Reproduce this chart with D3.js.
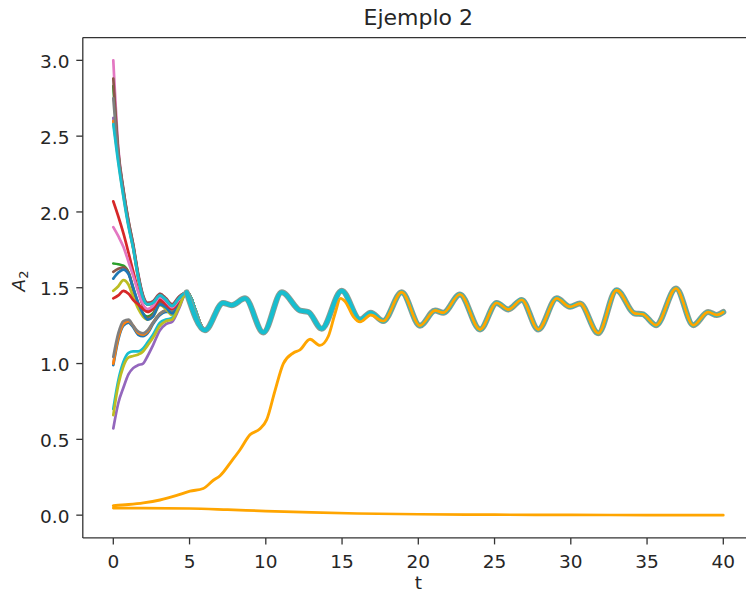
<!DOCTYPE html>
<html><head><meta charset="utf-8">
<script src="https://cdn.jsdelivr.net/npm/d3@7"></script>
<style>html,body{margin:0;padding:0;background:#fff}svg{display:block}</style>
</head><body>
<svg id="chart" width="746" height="594"></svg>
<script>
const chartTitle = "Ejemplo 2";
const xLabel = "t";
const xTicks = [0, 5, 10, 15, 20, 25, 30, 35, 40];
const yTicks = [0, 0.5, 1.0, 1.5, 2.0, 2.5, 3.0];

// early transient knots (shared time grid)
const earlyT = [0, 0.33, 0.66, 1.0, 1.3, 1.64, 1.95, 2.25, 2.6, 3.06, 3.45, 3.85, 4.3];
const s01 = [0.99, 1.16, 1.25, 1.27, 1.24, 1.19, 1.18, 1.20, 1.26, 1.32, 1.34, 1.34, 1.39];
const s02 = [1.00, 1.17, 1.26, 1.28, 1.25, 1.20, 1.19, 1.21, 1.27, 1.33, 1.35, 1.35, 1.40];
const s03 = [1.66, 1.655, 1.645, 1.60, 1.50, 1.39, 1.33, 1.31, 1.33, 1.41, 1.38, 1.34, 1.40];
const s04 = [2.07, 1.97, 1.86, 1.73, 1.61, 1.48, 1.38, 1.35, 1.38, 1.44, 1.41, 1.37, 1.42];
const s05 = [2.62, 2.36, 2.13, 1.92, 1.77, 1.57, 1.44, 1.39, 1.40, 1.45, 1.42, 1.38, 1.43];
const s06 = [1.605, 1.625, 1.635, 1.60, 1.49, 1.38, 1.32, 1.30, 1.32, 1.40, 1.37, 1.33, 1.39];
const s07 = [3.00, 2.42, 2.15, 1.94, 1.79, 1.59, 1.45, 1.40, 1.41, 1.46, 1.43, 1.39, 1.44];
const s08 = [1.044, 1.20, 1.28, 1.29, 1.25, 1.21, 1.20, 1.22, 1.27, 1.33, 1.35, 1.35, 1.40];
const s09 = [1.48, 1.51, 1.55, 1.52, 1.44, 1.36, 1.31, 1.29, 1.31, 1.385, 1.36, 1.32, 1.38];
const s10 = [0.70, 0.89, 1.01, 1.07, 1.08, 1.08, 1.10, 1.14, 1.19, 1.27, 1.29, 1.30, 1.38];
const s11 = [1.56, 1.60, 1.62, 1.59, 1.50, 1.40, 1.33, 1.29, 1.31, 1.39, 1.37, 1.33, 1.39];
const s12 = [2.60, 2.34, 2.11, 1.91, 1.76, 1.56, 1.43, 1.39, 1.40, 1.45, 1.42, 1.38, 1.43];
const s13 = [2.83, 2.38, 2.14, 1.93, 1.78, 1.58, 1.44, 1.39, 1.40, 1.45, 1.42, 1.38, 1.43];
const s14 = [1.43, 1.45, 1.48, 1.46, 1.42, 1.39, 1.36, 1.34, 1.36, 1.42, 1.39, 1.36, 1.41];
const s15 = [0.572, 0.74, 0.84, 0.93, 0.97, 0.99, 1.00, 1.05, 1.12, 1.22, 1.26, 1.275, 1.36];
const s16 = [2.88, 2.40, 2.15, 1.94, 1.79, 1.58, 1.45, 1.40, 1.41, 1.46, 1.43, 1.39, 1.44];
const s17 = [1.90, 1.84, 1.77, 1.67, 1.58, 1.47, 1.39, 1.36, 1.38, 1.44, 1.41, 1.37, 1.42];
const s18 = [2.75, 2.37, 2.13, 1.92, 1.77, 1.57, 1.44, 1.39, 1.40, 1.45, 1.42, 1.38, 1.43];
const s19 = [0.66, 0.86, 0.98, 1.04, 1.05, 1.06, 1.08, 1.12, 1.17, 1.25, 1.28, 1.29, 1.37];
const s20 = [2.58, 2.32, 2.10, 1.90, 1.76, 1.56, 1.43, 1.39, 1.40, 1.45, 1.42, 1.38, 1.43];

// common long-time trajectory
const attractorT = [4.81, 6.01, 7.2, 7.76, 8.64, 9.84, 11.05, 12.24, 12.79, 13.66, 14.98, 16.18, 16.88, 17.7,
  18.91, 20.11, 21.1, 21.64, 22.73, 24.05, 25.14, 25.9, 26.78, 27.87, 29.08, 29.95, 30.6, 31.8,
  33.0, 34.2, 34.7, 35.59, 36.9, 38.03, 39.0, 39.57, 40.0];
const attractorA = [1.47, 1.22, 1.40, 1.385, 1.43, 1.205, 1.47, 1.35, 1.34, 1.23, 1.48, 1.29, 1.335, 1.28,
  1.47, 1.25, 1.35, 1.335, 1.456, 1.225, 1.40, 1.357, 1.42, 1.225, 1.43, 1.374, 1.396, 1.20,
  1.484, 1.33, 1.326, 1.253, 1.495, 1.253, 1.34, 1.32, 1.34];

// slowly rising orange series (joins the trajectory near t = 17.7)
const risingT = [0, 1.0, 1.97, 3.06, 4.16, 5.03, 5.9, 6.56, 7.0, 7.78, 8.3, 8.96, 9.62, 10.06, 10.6, 11.15,
  11.8, 12.24, 12.9, 13.55, 14.1, 14.54, 14.9, 15.2, 15.74, 16.18, 16.88];
const risingA = [0.062, 0.07, 0.081, 0.10, 0.13, 0.158, 0.176, 0.23, 0.26, 0.36, 0.43, 0.53, 0.57, 0.63, 0.82, 1.0,
  1.07, 1.09, 1.16, 1.12, 1.18, 1.33, 1.43, 1.41, 1.31, 1.275, 1.32];

// decaying orange series
const decayT = [0, 2, 5, 7.5, 10, 13, 16, 20, 25, 30, 35, 40];
const decayA = [0.047, 0.047, 0.044, 0.036, 0.027, 0.018, 0.011, 0.006, 0.003, 0.0015, 0.0005, 0.0];

const tab10 = ["#1f77b4", "#ff7f0e", "#2ca02c", "#d62728", "#9467bd", "#8c564b", "#e377c2", "#7f7f7f", "#bcbd22", "#17becf"];
const extraColor = "#ffa500";

const earlySeries = [s01, s02, s03, s04, s05, s06, s07, s08, s09, s10,
                     s11, s12, s13, s14, s15, s16, s17, s18, s19, s20];

const svg = d3.select("#chart");
const W = 746, H = 594;
const L = 82.8, R = 753.8, T = 37.6, B = 537.9;
const x = d3.scaleLinear().domain([-2, 42]).range([L, R]);
const y = d3.scaleLinear().domain([-0.15, 3.15]).range([B, T]);
const FONT = "'DejaVu Sans', sans-serif";
const TXT = "#262626";

svg.append("rect").attr("width", W).attr("height", H).attr("fill", "#fff");

const zip = (ts, vs) => ts.map((t, i) => [t, vs[i]]);
const attractor = zip(attractorT, attractorA);
const line = d3.line().x(d => x(d[0])).y(d => y(d[1])).curve(d3.curveMonotoneX);

const g = svg.append("g");
earlySeries.forEach((vals, i) => {
  const pts = zip(earlyT, vals).concat(attractor);
  g.append("path").attr("d", line(pts)).attr("fill", "none")
    .attr("stroke", tab10[i % 10]).attr("stroke-width", 2.7)
    .attr("stroke-linejoin", "round").attr("stroke-linecap", "round");
});
// overlapped bundle of converged series
g.append("path").attr("d", line(attractor)).attr("fill", "none")
  .attr("stroke", "#8f9a90").attr("stroke-width", 6).attr("stroke-linecap", "round").attr("stroke-linejoin", "round");
g.append("path").attr("d", line(attractor)).attr("fill", "none")
  .attr("stroke", tab10[9]).attr("stroke-width", 4.2).attr("stroke-linecap", "round").attr("stroke-linejoin", "round");

const risingPts = zip(risingT, risingA).concat(attractor.filter(d => d[0] >= 17.7));
g.append("path").attr("d", line(risingPts)).attr("fill", "none")
  .attr("stroke", extraColor).attr("stroke-width", 2.9).attr("stroke-linejoin", "round").attr("stroke-linecap", "round");
g.append("path").attr("d", line(zip(decayT, decayA))).attr("fill", "none")
  .attr("stroke", extraColor).attr("stroke-width", 2.7).attr("stroke-linejoin", "round").attr("stroke-linecap", "round");

// spines
const spineColor = "#333", spineW = 1.3;
[[L, T, L, B], [L, B, R, B], [L, T, R, T], [R, T, R, B]].forEach(s => {
  svg.append("line").attr("x1", s[0]).attr("y1", s[1]).attr("x2", s[2]).attr("y2", s[3])
    .attr("stroke", spineColor).attr("stroke-width", spineW);
});

// x ticks
xTicks.forEach(v => {
  svg.append("line").attr("x1", x(v)).attr("x2", x(v)).attr("y1", B).attr("y2", B + 6.5)
    .attr("stroke", spineColor).attr("stroke-width", spineW);
  svg.append("text").attr("x", x(v)).attr("y", 567.5).attr("text-anchor", "middle")
    .attr("font-family", FONT).attr("font-size", 18.5).attr("fill", TXT).text(String(v));
});
// y ticks
yTicks.forEach(v => {
  svg.append("line").attr("x1", L - 6.5).attr("x2", L).attr("y1", y(v)).attr("y2", y(v))
    .attr("stroke", spineColor).attr("stroke-width", spineW);
  svg.append("text").attr("x", 69.5).attr("y", y(v) + 7.6).attr("text-anchor", "end")
    .attr("font-family", FONT).attr("font-size", 18.5).attr("fill", TXT).text(d3.format(".1f")(v));
});

// title and labels
svg.append("text").attr("x", (L + R) / 2).attr("y", 25).attr("text-anchor", "middle")
  .attr("font-family", FONT).attr("font-size", 22).attr("fill", TXT).text(chartTitle);
svg.append("text").attr("x", (L + R) / 2).attr("y", 589).attr("text-anchor", "middle")
  .attr("font-family", FONT).attr("font-size", 18.5).attr("fill", TXT).text(xLabel);
const yl = svg.append("text").attr("transform", "translate(24.5,281) rotate(-90)").attr("text-anchor", "middle")
  .attr("font-family", FONT).attr("font-size", 18.5).attr("fill", TXT);
yl.append("tspan").attr("font-style", "italic").text("A");
yl.append("tspan").attr("font-size", 13).attr("dy", 3.5).text("2");
</script>
</body></html>
